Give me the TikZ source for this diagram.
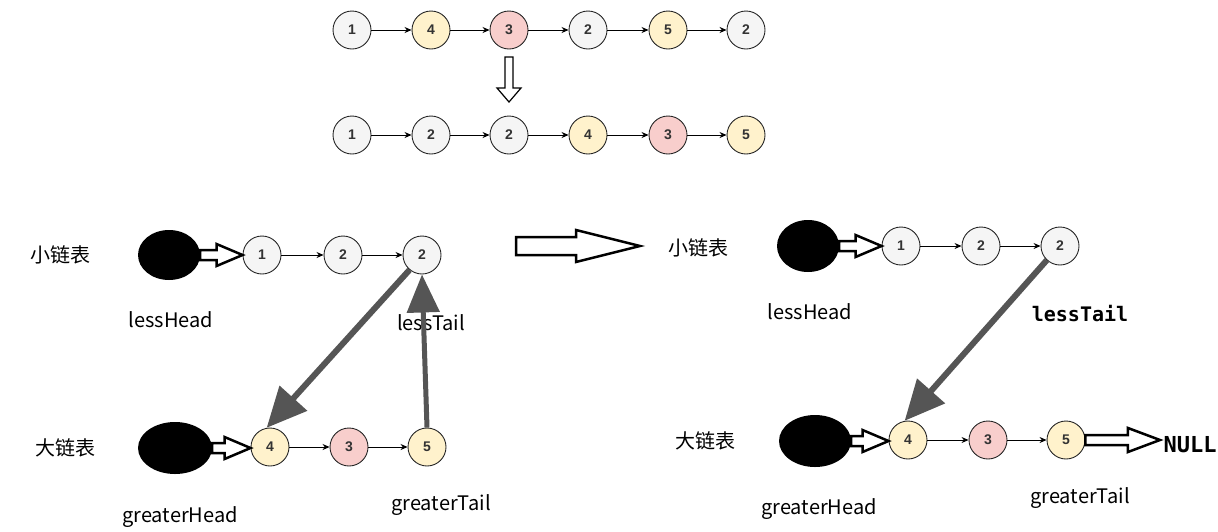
\documentclass[tikz,border=0pt]{standalone}
\usepackage{fontspec}
\setmainfont{Liberation Sans}
\newfontfamily\cjk{Noto Sans CJK SC}
\newfontfamily\monofont{DejaVu Sans Mono}
\usetikzlibrary{shapes.geometric, arrows.meta, calc}
\definecolor{nodegray}{RGB}{245,245,245}
\definecolor{nodeyel}{RGB}{255,242,204}
\definecolor{nodered}{RGB}{248,206,204}
\definecolor{arrowgray}{RGB}{85,85,85}
% hollow block arrow between two anchors: from, to, half head, head length
\newcommand{\fatlink}[4]{%
  \draw[hollow] let \p1=(#1), \p2=(#2) in
    (\x1,\y1+5) -- (\x2-#4,\y1+5) -- (\x2-#4,\y1+#3) -- (\x2,\y1)
    -- (\x2-#4,\y1-#3) -- (\x2-#4,\y1-5) -- (\x1,\y1-5) -- cycle;}

\begin{document}
\begin{tikzpicture}[x=1pt, y=-1pt,
  nd/.style={circle, draw=black!85, line width=0.9pt, minimum size=38pt, inner sep=0pt, font=\fontsize{14}{14}\selectfont\bfseries, text=black!80},
  gnode/.style={nd, fill=nodegray},
  ynode/.style={nd, fill=nodeyel},
  rnode/.style={nd, fill=nodered},
  link/.style={-{Stealth[length=7pt,width=6pt]}, line width=0.8pt},
  headblob/.style={ellipse, fill=black, inner sep=0pt},
  lbl/.style={font=\cjk\fontsize{20}{20}\selectfont},
  bigarrow/.style={draw=arrowgray, line width=6pt, -{Triangle[length=40pt,width=36pt]}},
  hollow/.style={draw=black, line width=2.5pt, fill=white, line join=miter}
]
  \useasboundingbox (0,0) rectangle (1218,531);

  % before
  \node[gnode] (a1) at (352,30) {1};
  \node[ynode] (a2) at (431,30) {4};
  \node[rnode] (a3) at (509,30) {3};
  \node[gnode] (a4) at (588,30) {2};
  \node[ynode] (a5) at (668,30) {5};
  \node[gnode] (a6) at (746,30) {2};
  \draw[link] (a1) -- (a2);
  \draw[link] (a2) -- (a3);
  \draw[link] (a3) -- (a4);
  \draw[link] (a4) -- (a5);
  \draw[link] (a5) -- (a6);

  \draw[hollow, line width=1.2pt] (505,57) -- (513,57) -- (513,88) -- (521,88) -- (509,102) -- (497,88) -- (505,88) -- cycle;

  % after
  \node[gnode] (b1) at (352,135) {1};
  \node[gnode] (b2) at (431,135) {2};
  \node[gnode] (b3) at (509,135) {2};
  \node[ynode] (b4) at (588,135) {4};
  \node[rnode] (b5) at (668,135) {3};
  \node[ynode] (b6) at (746,135) {5};
  \draw[link] (b1) -- (b2);
  \draw[link] (b2) -- (b3);
  \draw[link] (b3) -- (b4);
  \draw[link] (b4) -- (b5);
  \draw[link] (b5) -- (b6);

  % left: while splitting
  \node[lbl] (ls) at (60,255) {小链表};
  \node[headblob, minimum width=62pt, minimum height=50pt] (lh) at (169,255) {};
  \node[gnode] (l1) at (262,255) {1};
  \node[gnode] (l2) at (343,255) {2};
  \node[gnode] (l3) at (422,255) {2};
  \draw[link] (l1) -- (l2);
  \draw[link] (l2) -- (l3);
  \fatlink{lh.east}{l1.west}{11}{26}
  \node[lbl] (lhl) at (171,320) {lessHead};
  \node[lbl] (ltl) at (431,323) {lessTail};

  \node[lbl] (gs) at (65,448) {大链表};
  \node[headblob, minimum width=74pt, minimum height=52pt] (gh) at (175,448) {};
  \node[ynode] (g1) at (270,447) {4};
  \node[rnode] (g2) at (349,447) {3};
  \node[ynode] (g3) at (427,447) {5};
  \draw[link] (g1) -- (g2);
  \draw[link] (g2) -- (g3);
  \fatlink{gh.east}{g1.west}{11}{26}
  \node[lbl] (ghl) at (180,517) {greaterHead};
  \node[lbl] (gtl) at (441,505) {greaterTail};

  \draw[bigarrow] (l3.230) -- (g1.100);
  \draw[bigarrow, line width=5pt, -{Triangle[length=38pt,width=32pt]}] (g3.north) -- (l3.south);

  \draw[hollow] (516,237) -- (576,237) -- (576,230) -- (640,246) -- (576,262) -- (576,255) -- (516,255) -- cycle;

  % right: after linking
  \node[lbl] (rs) at (698,248) {小链表};
  \node[headblob, minimum width=62pt, minimum height=52pt] (rh) at (808,246) {};
  \node[gnode] (r1) at (901,246) {1};
  \node[gnode] (r2) at (981,246) {2};
  \node[gnode] (r3) at (1060,246) {2};
  \draw[link] (r1) -- (r2);
  \draw[link] (r2) -- (r3);
  \fatlink{rh.east}{r1.west}{11}{26}
  \node[lbl] (rhl) at (810,312) {lessHead};
  \node[font=\monofont\bfseries\fontsize{20}{20}\selectfont] (rtl) at (1080,314) {lessTail};

  \node[lbl] (qs) at (705,441) {大链表};
  \node[headblob, minimum width=72pt, minimum height=52pt] (qh) at (815,441) {};
  \node[ynode] (q1) at (908,440) {4};
  \node[rnode] (q2) at (988,440) {3};
  \node[ynode] (q3) at (1066,440) {5};
  \draw[link] (q1) -- (q2);
  \draw[link] (q2) -- (q3);
  \fatlink{qh.east}{q1.west}{11}{26}
  \node[font=\monofont\bfseries\fontsize{22}{22}\selectfont] (nul) at (1190,445) {NULL};
  \fatlink{q3.east}{nul.west}{12}{32}
  \node[lbl] (qhl) at (819,509) {greaterHead};
  \node[lbl] (qtl) at (1080,498) {greaterTail};

  \draw[bigarrow] (r3.227) -- (q1.100);
\end{tikzpicture}
\end{document}
